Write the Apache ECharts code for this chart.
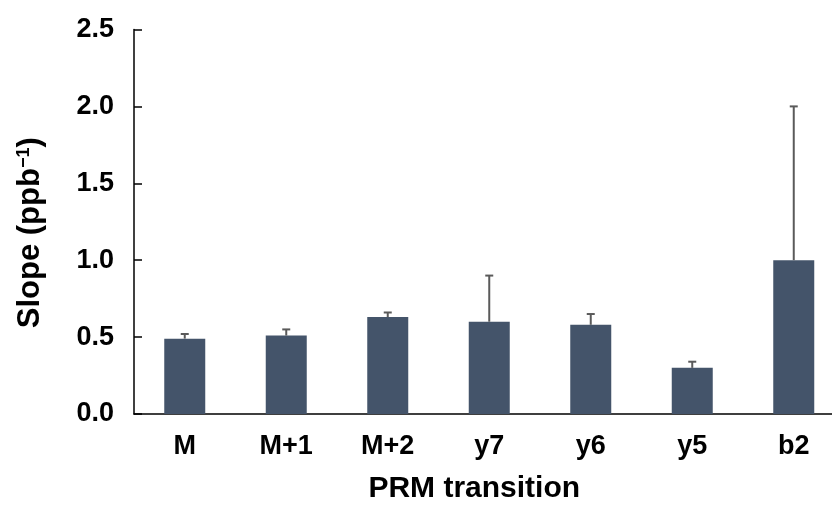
<!DOCTYPE html>
<html>
<head>
<meta charset="utf-8">
<script src="https://cdn.jsdelivr.net/npm/echarts@6/dist/echarts.min.js"></script>
<style>
  html, body { margin: 0; padding: 0; background: #fff; }
  #chart { width: 832px; height: 511px; }
</style>
</head>
<body>
<div id="chart"></div>
<script>
// 数据
const categories = ['M', 'M+1', 'M+2', 'y7', 'y6', 'y5', 'b2'];
const slopeValues = [0.49, 0.51, 0.63, 0.60, 0.58, 0.30, 1.00];
const errorTops = [0.52, 0.55, 0.66, 0.90, 0.65, 0.34, 2.00];
const yTicks = [0, 0.5, 1.0, 1.5, 2.0, 2.5];

const chart = echarts.init(document.getElementById('chart'));

// 误差线
function renderError(params, api) {
    const x = api.value(0);
    const base = api.coord([x, api.value(1)]);
    const top = api.coord([x, api.value(2)]);
    const cap = 4;
    const style = { stroke: '#5a5a5a', lineWidth: 2 };
    return {
        type: 'group',
        children: [
            { type: 'line', shape: { x1: base[0], y1: base[1], x2: top[0], y2: top[1] }, style: style },
            { type: 'line', shape: { x1: top[0] - cap, y1: top[1], x2: top[0] + cap, y2: top[1] }, style: style }
        ]
    };
}

const option = {
    animation: false,
    grid: {
        left: 134,
        right: -12.5,
        top: 29.5,
        bottom: 97,
        containLabel: false,
        outerBoundsMode: 'none'
    },
    xAxis: {
        type: 'category',
        data: categories,
        name: 'PRM transition',
        nameLocation: 'middle',
        nameGap: 60,
        nameTextStyle: {
            fontFamily: 'Liberation Sans',
            fontWeight: 'bold',
            fontSize: 30,
            color: '#000',
            padding: [0, 30, 0, 0]
        },
        axisLine: { lineStyle: { color: '#000', width: 1.5 } },
        axisTick: { show: false },
        axisLabel: {
            margin: 19,
            fontFamily: 'Liberation Sans',
            fontWeight: 'bold',
            fontSize: 27,
            color: '#000'
        }
    },
    yAxis: {
        type: 'value',
        min: yTicks[0],
        max: yTicks[yTicks.length - 1],
        interval: 0.5,
        name: '{a|Slope (ppb}{s|−1}{a|)}',
        nameLocation: 'middle',
        nameGap: 88,
        nameTextStyle: {
            padding: [0, 0, 0, -22],
            rich: {
                a: { fontFamily: 'Liberation Sans', fontWeight: 'bold', fontSize: 31, color: '#000' },
                s: { fontFamily: 'Liberation Sans', fontWeight: 'bold', fontSize: 18, color: '#000', padding: [0, 0, 13, 0] }
            }
        },
        axisLine: { show: true, lineStyle: { color: '#000', width: 1.5 } },
        axisTick: { show: true, inside: true, length: 8, lineStyle: { color: '#000', width: 1.5 } },
        splitLine: { show: false },
        axisLabel: {
            margin: 20,
            fontFamily: 'Liberation Sans',
            fontWeight: 'bold',
            fontSize: 27,
            color: '#000',
            formatter: v => v.toFixed(1)
        }
    },
    series: [
        {
            type: 'bar',
            data: slopeValues,
            barWidth: 41,
            itemStyle: { color: '#44546a' }
        },
        {
            type: 'custom',
            renderItem: renderError,
            data: categories.map((c, i) => [i, slopeValues[i], errorTops[i]]),
            encode: { x: 0, y: [1, 2] },
            z: 3
        }
    ]
};
chart.setOption(option);
</script>
</body>
</html>
